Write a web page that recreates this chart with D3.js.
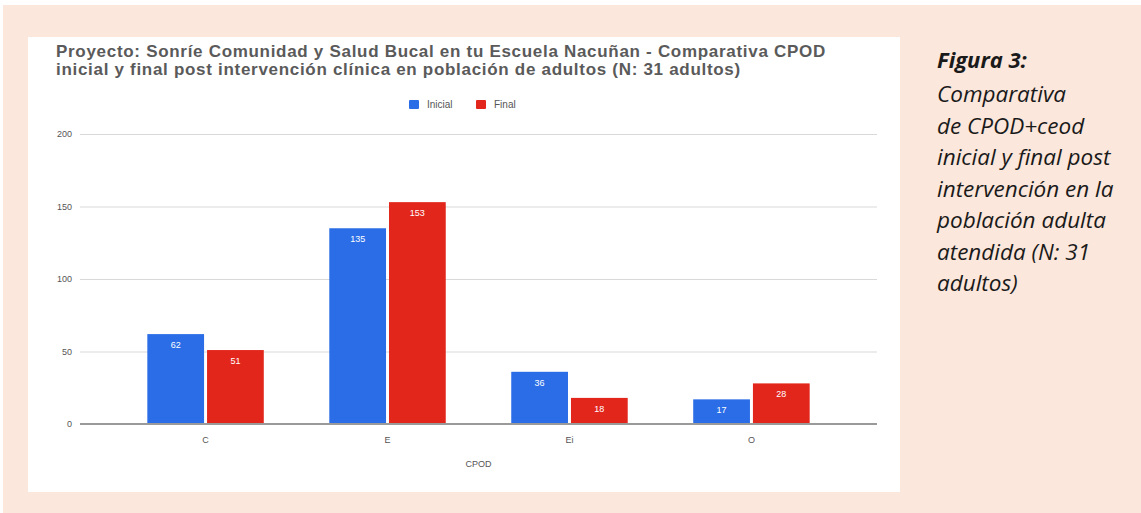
<!DOCTYPE html>
<html lang="es">
<head>
<meta charset="UTF-8">
<title>Comparativa CPOD</title>
<script src="https://d3js.org/d3.v7.min.js"></script>
<style>
  body { margin: 0; background: #fff; }
  svg { display: block; }
</style>
</head>
<body>
<svg width="1141" height="513"></svg>
<script>
    const categories = ["C", "E", "Ei", "O"];
    const seriesNames = ["Inicial", "Final"];
    const inicial = [62, 135, 36, 17];
    const final = [51, 153, 18, 28];
    const yTicks = [0, 50, 100, 150, 200];
    const titleLines = [
        "Proyecto: Sonríe Comunidad y Salud Bucal en tu Escuela Nacuñan - Comparativa CPOD",
        "inicial y final post intervención clínica en población de adultos (N: 31 adultos)"
    ];
    const captionLines = [
        "Comparativa",
        "de CPOD+ceod",
        "inicial y final post",
        "intervención en la",
        "población adulta",
        "atendida (N: 31",
        "adultos)"
    ];

    const colors = { "Inicial": "#2a6de6", "Final": "#e2261c" };

    const data = categories.map((c, i) => ({
        cat: c,
        values: [
            { key: "Inicial", value: inicial[i] },
            { key: "Final", value: final[i] }
        ]
    }));

    const svg = d3.select("svg");

    // fondo
    svg.append("rect")
        .attr("x", 3).attr("y", 5)
        .attr("width", 1138).attr("height", 508)
        .attr("fill", "#fbe7db");

    svg.append("rect")
        .attr("x", 28).attr("y", 37)
        .attr("width", 872).attr("height", 455)
        .attr("fill", "#ffffff");

    // titulo
    svg.selectAll(".title")
        .data(titleLines)
        .enter()
        .append("text")
        .attr("class", "title")
        .attr("x", 56)
        .attr("y", (d, i) => 57 + i * 18)
        .attr("fill", "#5a5a5a")
        .style("font-family", "'Liberation Sans', Arial, sans-serif")
        .style("font-weight", "bold")
        .style("font-size", "17px")
        .style("letter-spacing", "0.7px")
        .text(d => d);

    const plot = { left: 80, right: 877, top: 134, bottom: 424 };

    const x = d3.scaleBand()
        .domain(categories)
        .range([plot.left, plot.right])
        .paddingInner(0.36)
        .paddingOuter(0.37);

    const xSub = d3.scaleBand()
        .domain(seriesNames)
        .range([0, x.bandwidth()])
        .paddingInner(0.05);

    const y = d3.scaleLinear()
        .domain([0, 200])
        .range([plot.bottom, plot.top]);

    // lineas de cuadricula
    const yAxis = svg.append("g")
        .attr("transform", `translate(${plot.left},0)`)
        .call(d3.axisLeft(y).tickValues(yTicks).tickSize(-(plot.right - plot.left)).tickPadding(8));
    yAxis.select(".domain").remove();
    yAxis.selectAll(".tick line")
        .attr("stroke", "#d9d9d9")
        .attr("stroke-width", 1.2);
    yAxis.selectAll(".tick text")
        .attr("fill", "#555")
        .style("font-family", "'Liberation Sans', Arial, sans-serif")
        .style("font-size", "9px");

    // barras
    const groups = svg.selectAll(".grp")
        .data(data)
        .enter()
        .append("g")
        .attr("class", "grp")
        .attr("transform", d => `translate(${x(d.cat)},0)`);

    groups.selectAll("rect")
        .data(d => d.values)
        .enter()
        .append("rect")
        .attr("x", d => xSub(d.key))
        .attr("y", d => y(d.value))
        .attr("width", xSub.bandwidth())
        .attr("height", d => y(0) - y(d.value))
        .attr("fill", d => colors[d.key]);

    groups.selectAll(".lbl")
        .data(d => d.values)
        .enter()
        .append("text")
        .attr("class", "lbl")
        .attr("x", d => xSub(d.key) + xSub.bandwidth() / 2)
        .attr("y", d => y(d.value) + 14)
        .attr("text-anchor", "middle")
        .attr("fill", "#ffffff")
        .style("font-family", "'Liberation Sans', Arial, sans-serif")
        .style("font-size", "9px")
        .text(d => d.value);

    // linea base
    svg.append("line")
        .attr("x1", plot.left).attr("x2", plot.right)
        .attr("y1", y(0)).attr("y2", y(0))
        .attr("stroke", "#9a9a9a")
        .attr("stroke-width", 2);

    // eje x
    const xAxis = svg.append("g")
        .attr("transform", `translate(0,${y(0)})`)
        .call(d3.axisBottom(x).tickSize(0).tickPadding(13));
    xAxis.select(".domain").remove();
    xAxis.selectAll(".tick text")
        .attr("fill", "#555")
        .style("font-family", "'Liberation Sans', Arial, sans-serif")
        .style("font-size", "9px");

    svg.append("text")
        .attr("x", (plot.left + plot.right) / 2)
        .attr("y", 467)
        .attr("text-anchor", "middle")
        .attr("fill", "#555")
        .style("font-family", "'Liberation Sans', Arial, sans-serif")
        .style("font-size", "9px")
        .text("CPOD");

    // leyenda
    const legend = svg.append("g").attr("transform", "translate(409,100)");
    const legendX = [0, 67];
    seriesNames.forEach((s, i) => {
        legend.append("rect")
            .attr("x", legendX[i]).attr("y", 0)
            .attr("width", 10).attr("height", 9)
            .attr("rx", 1)
            .attr("fill", colors[s]);
        legend.append("text")
            .attr("x", legendX[i] + 18).attr("y", 8)
            .attr("fill", "#555")
            .style("font-family", "'Liberation Sans', Arial, sans-serif")
            .style("font-size", "10px")
            .text(s);
    });

    // texto de la figura
    const cap = svg.append("g").attr("transform", "translate(937,0)");
    cap.append("text")
        .attr("x", 0).attr("y", 68)
        .attr("fill", "#1a1a1a")
        .style("font-family", "'Open Sans', 'Noto Sans', sans-serif")
        .style("font-style", "italic")
        .style("font-weight", "bold")
        .style("font-size", "22px")
        .text("Figura 3:");
    cap.selectAll(".cap")
        .data(captionLines)
        .enter()
        .append("text")
        .attr("class", "cap")
        .attr("x", 0)
        .attr("y", (d, i) => 102 + i * 31.5)
        .attr("fill", "#1a1a1a")
        .style("font-family", "'Open Sans', 'Noto Sans', sans-serif")
        .style("font-style", "italic")
        .style("font-size", "22.5px")
        .text(d => d);
</script>
</body>
</html>
